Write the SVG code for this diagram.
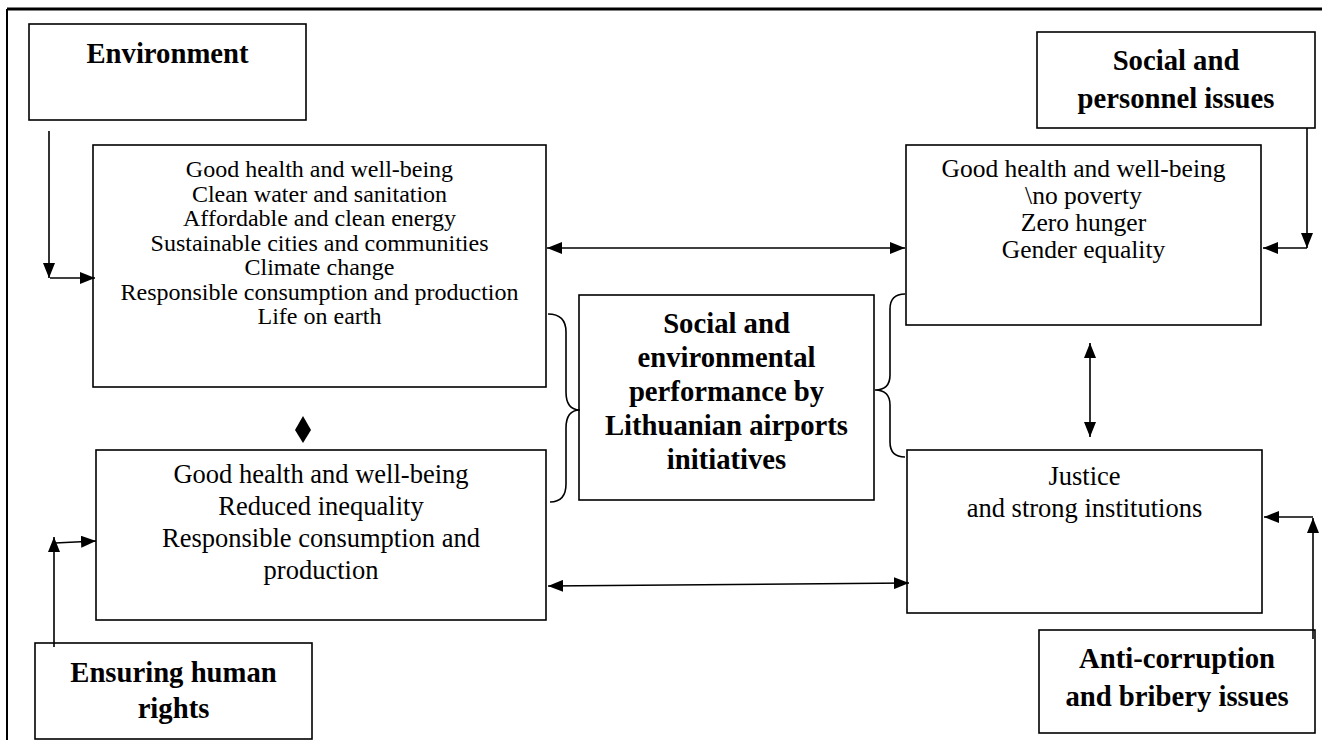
<svg xmlns="http://www.w3.org/2000/svg" width="1322" height="740" viewBox="0 0 1322 740">
<defs>
<style>
.box{fill:#fff;stroke:#000;stroke-width:1.6}
.t{font-family:"Liberation Serif","Times New Roman",serif;fill:#000;text-anchor:middle}
.r24{font-size:24px}
.r25{font-size:25.5px}
.r26{font-size:26.5px}
.b{font-size:28.7px;font-weight:bold}
.ln{fill:none;stroke:#000;stroke-width:1.6}
</style>
<marker id="ah" viewBox="0 0 15 12" refX="15" refY="6" markerWidth="15" markerHeight="12" markerUnits="userSpaceOnUse" orient="auto-start-reverse">
<path d="M0,0 L15,6 L0,12 z" fill="#000"/>
</marker>
</defs>
<rect width="1322" height="740" fill="#fff"/>
<g id="frame">
<line x1="7" y1="9" x2="1322" y2="9" stroke="#000" stroke-width="3"/>
<line x1="7" y1="9" x2="7" y2="740" stroke="#000" stroke-width="2"/>
</g>
<g id="environment">
<rect class="box" x="29" y="24" width="277" height="96"/>
<text class="t b" x="167.5" y="63">Environment</text>
</g>
<g id="social-personnel">
<rect class="box" x="1037" y="32" width="278" height="96"/>
<text class="t b" x="1176" y="70">Social and</text>
<text class="t b" x="1176" y="108">personnel issues</text>
</g>
<g id="env-goals">
<rect class="box" x="93" y="145" width="453" height="242"/>
<text class="t r24" x="319.5" y="177">Good health and well-being</text>
<text class="t r24" x="319.5" y="201.5">Clean water and sanitation</text>
<text class="t r24" x="319.5" y="226">Affordable and clean energy</text>
<text class="t r24" x="319.5" y="250.5">Sustainable cities and communities</text>
<text class="t r24" x="319.5" y="275">Climate change</text>
<text class="t r24" x="319.5" y="299.5">Responsible consumption and production</text>
<text class="t r24" x="319.5" y="324">Life on earth</text>
</g>
<g id="social-goals">
<rect class="box" x="906" y="145" width="355" height="180"/>
<text class="t r25" x="1083.5" y="177">Good health and well-being</text>
<text class="t r25" x="1083.5" y="204">\no poverty</text>
<text class="t r25" x="1083.5" y="231">Zero hunger</text>
<text class="t r25" x="1083.5" y="258">Gender equality</text>
</g>
<g id="center">
<rect class="box" x="579" y="295" width="295" height="205"/>
<text class="t b" x="726.5" y="333">Social and</text>
<text class="t b" x="726.5" y="367">environmental</text>
<text class="t b" x="726.5" y="401">performance by</text>
<text class="t b" x="726.5" y="435">Lithuanian airports</text>
<text class="t b" x="726.5" y="469">initiatives</text>
</g>
<g id="human-goals">
<rect class="box" x="96" y="450" width="450" height="170"/>
<text class="t r26" x="321" y="483">Good health and well-being</text>
<text class="t r26" x="321" y="515">Reduced inequality</text>
<text class="t r26" x="321" y="547">Responsible consumption and</text>
<text class="t r26" x="321" y="579">production</text>
</g>
<g id="justice-goals">
<rect class="box" x="907" y="450" width="355" height="163"/>
<text class="t r26" x="1084.5" y="485">Justice</text>
<text class="t r26" x="1084.5" y="517">and strong institutions</text>
</g>
<g id="human-rights">
<rect class="box" x="35" y="643" width="277" height="96"/>
<text class="t b" x="173.5" y="682">Ensuring human</text>
<text class="t b" x="173.5" y="718">rights</text>
</g>
<g id="anti-corruption">
<rect class="box" x="1039" y="630" width="276" height="103"/>
<text class="t b" x="1177" y="668">Anti-corruption</text>
<text class="t b" x="1177" y="706">and bribery issues</text>
</g>
<g id="connectors">
<path class="ln" d="M49,131 V278" marker-end="url(#ah)"/>
<path class="ln" d="M50,278 H95" marker-end="url(#ah)"/>
<path class="ln" d="M1307,128 V248" marker-end="url(#ah)"/>
<path class="ln" d="M1307,248 H1263" marker-end="url(#ah)"/>
<path class="ln" d="M54,647 V537" marker-end="url(#ah)"/>
<path class="ln" d="M55,543 L96,541" marker-end="url(#ah)"/>
<path class="ln" d="M1313,639 V518" marker-end="url(#ah)"/>
<path class="ln" d="M1313,517 H1264" marker-end="url(#ah)"/>
<path class="ln" d="M547,248 H905" marker-start="url(#ah)" marker-end="url(#ah)"/>
<path class="ln" d="M548,586 L909,583" marker-start="url(#ah)" marker-end="url(#ah)"/>
<path class="ln" d="M1090,343 V437" marker-start="url(#ah)" marker-end="url(#ah)"/>
<polygon points="303,416 311,430 303,443 295,430" fill="#000"/>
<path class="ln" d="M548,314 Q566,314 566,332 V392 Q566,410 580,410 Q566,410 566,428 V484 Q566,502 550,502"/>
<path class="ln" d="M905,294 Q890,294 890,309 V375 Q890,390 875,390 Q890,390 890,405 V442 Q890,457 905,457"/>
</g>
</svg>
